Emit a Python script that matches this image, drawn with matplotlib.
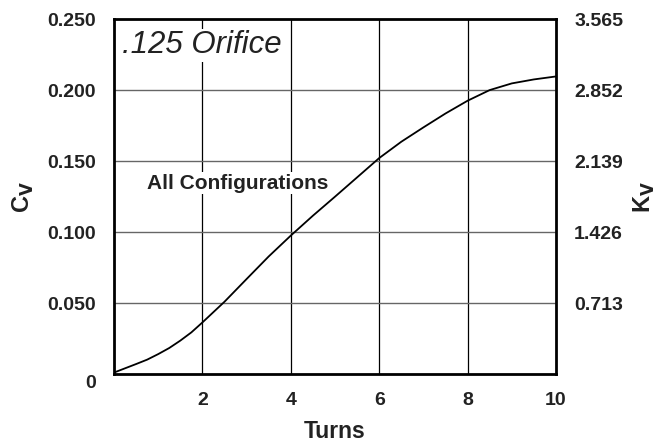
import matplotlib
matplotlib.use("Agg")
import matplotlib.pyplot as plt
from matplotlib.transforms import ScaledTranslation

turns = [0.0, 0.25, 0.5, 0.75, 1.0, 1.25, 1.5, 1.75, 2.0, 2.5, 3.0, 3.5, 4.0, 4.5, 5.0,
         5.5, 6.0, 6.5, 7.0, 7.5, 8.0, 8.5, 9.0, 9.5, 10.0]
cv = [0.001, 0.004, 0.007, 0.0101, 0.014, 0.0183, 0.0235, 0.0293, 0.0363, 0.0509, 0.0669,
      0.0828, 0.0975, 0.1115, 0.1249, 0.1385, 0.1521, 0.1636, 0.1737, 0.1835, 0.1925,
      0.2000, 0.2047, 0.2075, 0.2096]

cv_ticks = [0, 0.05, 0.10, 0.15, 0.20, 0.25]
cv_labels = ["0", "0.050", "0.100", "0.150", "0.200", "0.250"]
kv_ticks = [0.713, 1.426, 2.139, 2.852, 3.565]
kv_labels = ["0.713", "1.426", "2.139", "2.852", "3.565"]
x_ticks = [2, 4, 6, 8, 10]
x_labels = ["2", "4", "6", "8", "10"]

plt.rcParams['font.family'] = ['Liberation Sans', 'DejaVu Sans']
txt = '#222222'

fig = plt.figure(figsize=(6.59, 4.45), dpi=100)
ax = fig.add_axes([0.173, 0.1596, 0.6707, 0.7975])

ax.set_xlim(0, 10)
ax.set_ylim(0, 0.25)
ax.set_xticks(x_ticks)
ax.set_xticklabels(x_labels, fontsize=14, fontweight='bold', color=txt)
ax.set_yticks(cv_ticks)
ax.set_yticklabels(cv_labels, fontsize=14, fontweight='bold', color=txt)
ax.tick_params(axis='both', length=0)
ax.tick_params(axis='x', pad=13)
ax.tick_params(axis='y', pad=13)
zero_lbl = ax.get_yticklabels()[0]
zero_lbl.set_transform(zero_lbl.get_transform() + ScaledTranslation(0, -0.08, fig.dpi_scale_trans))

for v in [2, 4, 6, 8]:
    ax.axvline(v, color='black', lw=0.9, zorder=1)
for v in [0.05, 0.10, 0.15, 0.20]:
    ax.axhline(v, color='#666666', lw=1.0, zorder=1)

ax.plot(turns, cv, color='black', lw=1.3, zorder=3)

for s in ax.spines.values():
    s.set_linewidth(2.0)

ax.text(0.18, 0.2315, ".125 Orifice", fontsize=22.5, style='italic', color=txt,
        va='center', ha='left', zorder=2,
        bbox=dict(facecolor='white', edgecolor='none', pad=1))
ax.text(0.74, 0.1345, "All Configurations", fontsize=15, fontweight='bold', color=txt,
        va='center', ha='left', zorder=2,
        bbox=dict(facecolor='white', edgecolor='none', pad=1))

ax.set_xlabel("Turns", fontsize=16.5, fontweight='bold', color=txt, labelpad=8)
ax.set_ylabel(r"C$_{\mathbf{V}}$", fontsize=17, fontweight='bold', color=txt, labelpad=8)

ax2 = ax.twinx()
ax2.set_ylim(0, 3.565)
ax2.set_yticks(kv_ticks)
ax2.set_yticklabels(kv_labels, fontsize=14, fontweight='bold', color=txt)
ax2.tick_params(axis='y', length=0, pad=13)
for s in ax2.spines.values():
    s.set_visible(False)
ax2.set_ylabel(r"K$_{\mathbf{V}}$", fontsize=17, fontweight='bold', color=txt, labelpad=6)

fig.savefig("out.png", dpi=100)
